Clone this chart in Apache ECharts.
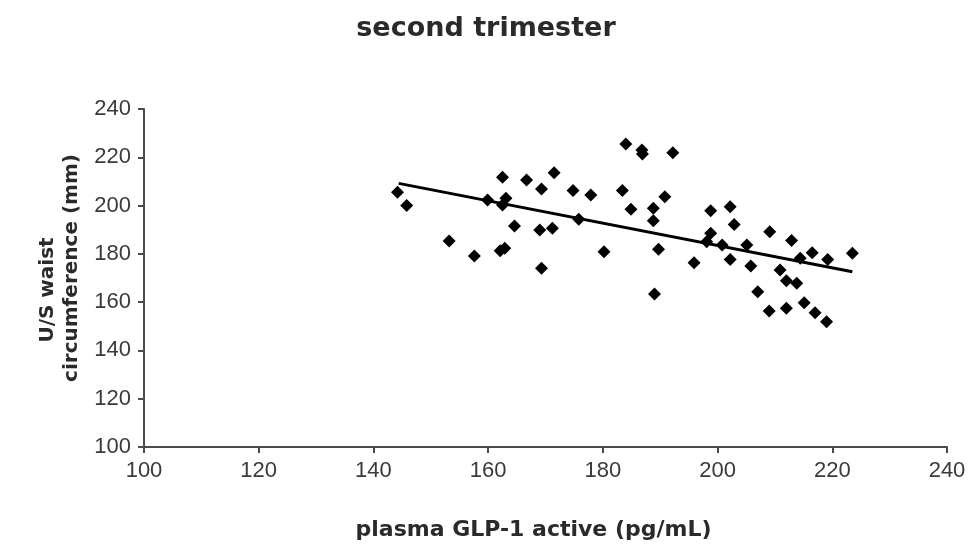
<!DOCTYPE html>
<html>
<head>
<meta charset="utf-8">
<title>second trimester</title>
<script src="https://cdn.jsdelivr.net/npm/echarts@6/dist/echarts.min.js"></script>
<style>
  html, body { margin: 0; padding: 0; background: #fff; }
  #chart { width: 969px; height: 550px; }
</style>
</head>
<body>
<div id="chart"></div>
<script>
// Plasma GLP-1 active (pg/mL) for each subject
const glpActive = [
  144.2, 145.8, 153.2, 157.6, 159.9, 162.5, 163.1, 162.5, 162.1, 162.9,
  164.6, 166.7, 169.3, 171.5, 169.0, 171.2, 169.3, 174.8, 177.9, 175.8,
  180.2, 183.4, 184.0, 186.8, 186.9, 184.9, 188.8, 188.8, 190.8, 192.2,
  189.7, 189.0, 198.8, 202.2, 202.9, 198.8, 198.1, 200.8, 205.1, 195.9,
  202.2, 205.8, 207.0, 209.0, 209.1, 212.9, 216.5, 214.4, 219.2, 223.5,
  210.9, 212.0, 213.8, 212.0, 215.1, 217.0, 219.0
];
// U/S waist circumference (mm) for the same subjects
const waistCirc = [
  205.5, 200.0, 185.3, 179.1, 202.3, 211.7, 203.0, 200.2, 181.3, 182.3,
  191.5, 210.6, 206.9, 213.6, 189.9, 190.6, 174.0, 206.2, 204.4, 194.3,
  180.9, 206.2, 225.5, 223.0, 221.4, 198.5, 198.9, 193.7, 203.7, 221.9,
  181.9, 163.4, 197.9, 199.5, 192.2, 188.5, 185.0, 183.7, 183.7, 176.3,
  177.7, 175.0, 164.3, 156.3, 189.2, 185.5, 180.5, 178.2, 177.7, 180.2,
  173.3, 168.9, 167.8, 157.5, 159.8, 155.6, 151.9
];
// Linear trend line end points
const trendX = [144.4, 223.5];
const trendY = [209.2, 172.6];

// Axis ranges and tick spacing
const xTicks = { min: 100, max: 240, step: 20 };
const yTicks = { min: 100, max: 240, step: 20 };

const titleText = 'second trimester';
const xTitle = 'plasma GLP-1 active (pg/mL)';
const yTitleLines = ['U/S waist', 'circumference (mm)'];

const points = glpActive.map((x, i) => [x, waistCirc[i]]);
const trend = trendX.map((x, i) => [x, trendY[i]]);

const axisGray = '#4a4a4a';
const labelFont = { fontFamily: 'Liberation Sans', fontSize: 22, color: '#3a3a3a' };
const boldFont = { fontFamily: 'DejaVu Sans', fontWeight: 'bold' };

const chart = echarts.init(document.getElementById('chart'), null, { renderer: 'canvas' });
chart.setOption({
  animation: false,
  backgroundColor: '#ffffff',
  title: {
    text: titleText,
    left: 481,
    top: 10,
    textAlign: 'center',
    textStyle: Object.assign({ fontSize: 27, color: '#2a2a2a' }, boldFont)
  },
  grid: { left: 144, right: 22, top: 109, bottom: 103, containLabel: false },
  xAxis: {
    type: 'value',
    min: xTicks.min, max: xTicks.max, interval: xTicks.step,
    name: xTitle,
    nameLocation: 'middle',
    nameGap: 72,
    nameTextStyle: Object.assign({ fontSize: 22, color: '#2a2a2a', padding: [0, 24, 0, 0] }, boldFont),
    axisLine: { lineStyle: { color: axisGray, width: 2 } },
    axisTick: { show: true, inside: false, length: 6, lineStyle: { color: axisGray, width: 2 } },
    axisLabel: Object.assign({ margin: 13 }, labelFont),
    splitLine: { show: false }
  },
  yAxis: {
    type: 'value',
    min: yTicks.min, max: yTicks.max, interval: yTicks.step,
    axisLine: { show: true, lineStyle: { color: axisGray, width: 2 } },
    axisTick: { show: true, inside: false, length: 6, lineStyle: { color: axisGray, width: 2 } },
    axisLabel: Object.assign({ margin: 13 }, labelFont),
    splitLine: { show: false }
  },
  graphic: [
    {
      type: 'text',
      x: 48, y: 290, rotation: Math.PI / 2,
      style: Object.assign({
        text: yTitleLines[0], align: 'center', verticalAlign: 'middle',
        fontSize: 20, fill: '#2a2a2a'
      }, boldFont)
    },
    {
      type: 'text',
      x: 72, y: 268, rotation: Math.PI / 2,
      style: Object.assign({
        text: yTitleLines[1], align: 'center', verticalAlign: 'middle',
        fontSize: 20, fill: '#2a2a2a'
      }, boldFont)
    }
  ],
  series: [
    {
      type: 'scatter',
      data: points,
      symbol: 'diamond',
      symbolSize: 13,
      itemStyle: { color: '#000000', opacity: 1 },
      z: 3
    },
    {
      type: 'line',
      data: trend,
      showSymbol: false,
      symbol: 'none',
      lineStyle: { color: '#000000', width: 3 },
      z: 2
    }
  ]
});
</script>
</body>
</html>
